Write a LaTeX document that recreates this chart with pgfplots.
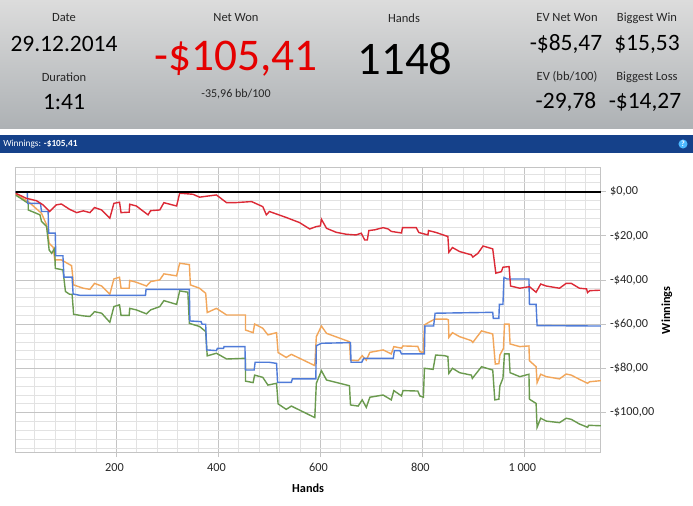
\documentclass[border=0pt]{standalone}
\usepackage{pgfplots}
\pgfplotsset{compat=1.18}
\usepackage{fontspec}
\setmainfont{Carlito}

\definecolor{hdrtop}{HTML}{DCDCDC}
\definecolor{hdrbot}{HTML}{ADB1B4}
\definecolor{barblue}{HTML}{15418A}
\definecolor{gridmaj}{HTML}{C4C4C4}
\definecolor{gridmin}{HTML}{E2E2E2}
\definecolor{redline}{HTML}{DC2A36}
\definecolor{orangeline}{HTML}{F2A65A}
\definecolor{greenline}{HTML}{6A9A4E}
\definecolor{blueline}{HTML}{4F7BD8}

% px to pt: the page is 693x506, 1px = 0.75pt
\newcommand{\px}[2]{(#1*0.75pt,-#2*0.75pt)}
\newcommand{\lab}[3]{\node[text=black!85,font=\fontsize{9.4}{11}\selectfont,inner sep=0pt] at \px{#1}{#2} {#3};}
\newcommand{\val}[3]{\node[text=black,font=\fontsize{17.6}{21}\selectfont,inner sep=0pt] at \px{#1}{#2} {#3};}

\pgfplotstableread{
h d
2 -0.7
23 -3
43 -4.1
56 -6
69 -9
82 -6
92 -5.6
108 -8
122 -9.5
135 -8.7
148 -9.5
157 -7.2
171 -8.3
187 -12
195 -5.3
206 -4.8
209 -9.5
225 -9.3
226 -5.7
239 -6.5
262 -10.5
267 -8.6
285 -8.3
293 -5
318 -6.5
324 -0.7
350 -1.2
363 -2.5
396 -1.5
416 -5
432 -5
465 -4.5
487 -6.8
494 -10.5
500 -9
533 -11.7
559 -14
579 -16.9
592 -15.8
600 -15.5
602 -12.5
612 -16.6
631 -18.4
651 -19.3
670 -19.6
680 -18.8
687 -21.9
692 -21.9
695 -17.6
706 -17.3
723 -16.3
733 -16.9
739 -18
759 -18.7
761 -16.3
788 -16.3
793 -18.5
811 -19.6
812 -17.6
827 -18.5
850 -20.3
852 -27.4
859 -25.3
873 -27.1
896 -28.6
899 -29.6
909 -27.9
919 -24.6
938 -25.9
944 -36.9
955 -36.2
958 -34.2
970 -33.9
973 -42.7
991 -43.7
1010 -43
1023 -45.5
1032 -41.8
1043 -42.7
1069 -43.7
1082 -41.5
1092 -41.5
1108 -43.7
1122 -44
1124 -45.7
1128 -44.8
1148 -44.6
}\redtable

\pgfplotstableread{
h d
2 -1.2
27 -4.5
53 -9.8
63 -15
68 -23.4
76 -25.2
79 -30.9
92 -30.9
112 -33.5
116 -42.2
135 -43.7
148 -44.2
157 -41.5
171 -42.7
187 -46.4
195 -39.5
206 -38.7
209 -43.7
225 -43.7
226 -40.2
239 -41
259 -42.7
267 -40.7
285 -39.9
293 -37.2
318 -38.1
324 -32.4
343 -33
345 -42.2
363 -43.7
375 -46
378 -54.7
396 -52.8
416 -55.8
453 -55.8
453 -62.6
468 -63.8
471 -59.9
487 -61.8
497 -64.8
514 -63.8
517 -72.8
533 -75
543 -73.6
589 -78.7
592 -65.6
602 -60.8
612 -64.1
657 -67.9
659 -76.2
674 -76.5
682 -74.2
690 -76.2
697 -72.7
723 -71.6
739 -73.4
744 -70.1
759 -70.8
762 -69.8
791 -70
795 -72.4
802 -72.8
804 -60.3
815 -58.8
824 -57.7
848 -57.7
851 -58
852 -65.9
859 -63.8
873 -65.6
896 -67.4
899 -68.2
916 -63
938 -64.4
943 -78
950 -77.8
952 -73.9
959 -70.9
961 -59.9
970 -59.9
972 -68.9
991 -70.1
1009 -69.8
1010 -76.5
1023 -79.2
1025 -86.4
1032 -82.6
1043 -83.7
1069 -84.7
1082 -82.5
1092 -83
1108 -84.9
1124 -86.7
1128 -86
1150 -85.5
}\orangetable

\pgfplotstableread{
h d
2 -1.5
27 -5.3
27 -8.3
50 -10.5
53 -13.5
63 -15.8
68 -26.4
73 -27.9
79 -25.6
80 -34.7
95 -35.4
100 -45.2
108 -46.4
113 -46.4
116 -55.5
135 -56.2
148 -56.5
157 -54.3
171 -55
187 -59.1
195 -52
206 -51.2
209 -56
225 -56
226 -52.8
239 -53.5
259 -55.3
267 -53.5
285 -52
293 -49.3
318 -51
324 -44.9
340 -45.5
343 -59.6
363 -61
375 -63.3
378 -74.3
396 -73.1
416 -75.7
453 -75.4
453 -85.7
468 -86.4
471 -83
487 -84
497 -87.5
514 -86.7
517 -96
533 -98.5
543 -97
589 -102.2
592 -86.7
602 -81
612 -85.2
657 -87.8
659 -96.5
674 -97
682 -94.2
690 -97.6
697 -93
723 -92
739 -94.2
744 -90
759 -92.4
762 -90
791 -90.2
795 -92.4
802 -93
804 -79.9
821 -80.4
826 -73.9
843 -74.2
850 -74.6
852 -82.2
859 -79.9
873 -81.9
896 -83
898 -84.5
903 -83
916 -79.2
938 -80.7
942 -94.2
950 -93.9
952 -87.9
958 -84.4
961 -73.4
970 -73.4
972 -81.9
991 -83.7
1009 -82.6
1010 -93.9
1023 -95.8
1025 -106.6
1032 -102.5
1043 -103.8
1069 -104.5
1082 -102.5
1092 -103
1108 -105.1
1124 -106.6
1126 -105.7
1150 -105.9
}\greentable

\pgfplotstableread{
h d
2 -0.1
25 -0.1
26 -5.3
51 -5.3
53 -9
66 -9
67 -18.8
80 -18.8
81 -29
95 -29
97 -38.7
113 -38.7
115 -46.3
128 -46.9
257 -46.9
258 -44.2
343 -44.2
344 -58.5
366 -58.8
368 -60
375 -60
377 -71.6
396 -71.9
398 -70.9
410 -70.9
411 -70.1
452 -70.1
453 -80.7
470 -80.7
472 -77.2
500 -77.2
514 -77.7
516 -86.3
543 -86.3
545 -84.7
591 -84.7
592 -69.7
602 -68.6
659 -68.3
660 -77.2
681 -77.2
685 -75.4
743 -75.4
745 -71.9
756 -71.9
759 -73.4
804 -73.4
805 -60.8
822 -60.8
825 -55
938 -54.6
939 -57.3
950 -57.3
951 -51
958 -51
960 -38.8
966 -39.5
1009 -39.5
1010 -51
1023 -51
1025 -60.6
1150 -60.8
}\bluetable

\pgfplotstableread{
h d
0 0
1150 0
}\zerotable

\begin{document}
\begin{tikzpicture}
  % page frame, 693x506 px
  \path[fill=white] \px{0}{0} rectangle \px{693}{506};
  % header
  \shade[top color=hdrtop,bottom color=hdrbot] \px{0}{0} rectangle \px{693}{129};
  \fill[barblue] \px{0}{135} rectangle \px{693}{153};
  \node[text=white,font=\fontsize{7}{9}\selectfont,anchor=west,inner sep=0pt] at \px{3}{144} {Winnings: \textbf{-\$105,41}};
  \fill[blue!40!cyan!70] \px{683}{144} circle[radius=3.4pt];
  \node[text=white,font=\fontsize{6}{7}\bfseries\selectfont,inner sep=0pt] at \px{683}{144} {?};

  \lab{64}{18}{Date}
  \val{64}{44}{29.12.2014}
  \lab{64}{77}{Duration}
  \val{64}{102}{1:41}
  \lab{236}{18}{Net Won}
  \node[text=red!90!black,font=\fontsize{34}{40}\selectfont,inner sep=0pt] at \px{236}{59} {-\$105,41};
  \node[text=black!85,font=\fontsize{9}{11}\selectfont,inner sep=0pt] at \px{236}{94} {-35,96 bb/100};
  \lab{404}{18}{Hands}
  \node[text=black,font=\fontsize{35}{41}\selectfont,inner sep=0pt] at \px{405}{59} {1148};
  \lab{567}{18}{EV Net Won}
  \val{566}{44}{-\$85,47}
  \lab{567}{77}{EV (bb/100)}
  \val{566}{102}{-29,78}
  \lab{647}{18}{Biggest Win}
  \val{647}{44}{\$15,53}
  \lab{647}{77}{Biggest Loss}
  \val{645}{102}{-\$14,27}

  \begin{axis}[
    at={(11.625pt,-339.375pt)},
    anchor=south west,
    scale only axis,
    width=439pt,
    height=213.4pt,
    xmin=2, xmax=1150,
    ymin=-118, ymax=10.7,
    grid=both,
    major grid style={gridmaj,line width=0.7pt},
    minor grid style={gridmin,line width=0.6pt},
    xtick={200,400,600,800,1000},
    xticklabels={200,400,600,800,1 000},
    minor xtick={40,80,120,160,240,280,320,360,440,480,520,560,640,680,720,760,840,880,920,960,1040,1080,1120},
    ytick={0,-20,-40,-60,-80,-100},
    yticklabels={{\$0,00},{-\$20,00},{-\$40,00},{-\$60,00},{-\$80,00},{-\$100,00}},
    minor ytick={8,4,-4,-8,-12,-16,-24,-28,-32,-36,-44,-48,-52,-56,-64,-68,-72,-76,-84,-88,-92,-96,-104,-108,-112,-116},
    yticklabel pos=right,
    axis line style={gridmaj,line width=0.8pt},
    tick style={gridmaj,line width=0.7pt},
    tick align=outside,
    xtick pos=bottom,
    ytick pos=right,
    major tick length=3.5pt,
    minor tick length=0pt,
    ticklabel style={font=\fontsize{9.2}{11}\selectfont,text=black!85},
    xticklabel style={xshift=-1.5pt,yshift=-1pt},
    /pgf/number format/assume math mode=true,
    xlabel={\textbf{Hands}},
    ylabel={\textbf{Winnings}},
    xlabel style={font=\fontsize{9.2}{11}\selectfont,at={(axis description cs:0.5,0)},anchor=north,yshift=-20pt},
    ylabel style={font=\fontsize{9.2}{11}\selectfont,at={(rel axis cs:1.1127,0.5)},anchor=center},
  ]
    \addplot[orangeline,line width=1.05pt] table[x=h,y=d] {\orangetable};
    \addplot[greenline,line width=1.05pt] table[x=h,y=d] {\greentable};
    \addplot[blueline,line width=1.05pt] table[x=h,y=d] {\bluetable};
    \addplot[redline,line width=1.05pt] table[x=h,y=d] {\redtable};
    \addplot[black,line width=1.5pt] table[x=h,y=d] {\zerotable};
  \end{axis}
  % keep the page at the reference's size
  \path[use as bounding box] \px{0}{0} rectangle \px{693}{506};
\end{tikzpicture}
\end{document}
